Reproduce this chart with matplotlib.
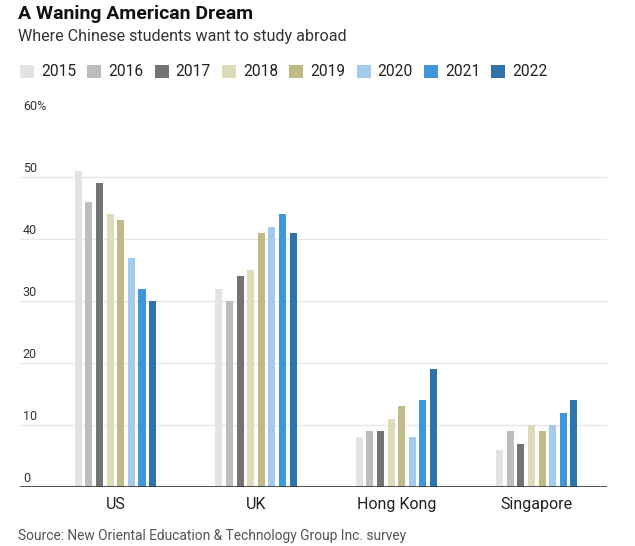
import numpy as np
import matplotlib.pyplot as plt
from matplotlib.patches import Patch

plt.rcParams['font.family'] = ['Roboto', 'DejaVu Sans']

# data (% of students)
countries = ['US', 'UK', 'Hong Kong', 'Singapore']
years = ['2015', '2016', '2017', '2018', '2019', '2020', '2021', '2022']
values = {
    '2015': [51, 32, 8, 6],
    '2016': [46, 30, 9, 9],
    '2017': [49, 34, 9, 7],
    '2018': [44, 35, 11, 10],
    '2019': [43, 41, 13, 9],
    '2020': [37, 42, 8, 10],
    '2021': [32, 44, 14, 12],
    '2022': [30, 41, 19, 14],
}
colors = ['#e2e3e5', '#bdbdbd', '#737373', '#dedbbb', '#bfba88',
          '#a3cbec', '#3d97d8', '#2e74aa']
yticks = [0, 10, 20, 30, 40, 50, 60]

fig = plt.figure(figsize=(6.35, 5.46), dpi=100)
ax = fig.add_axes([20 / 635, 59 / 546, 587 / 635, 372 / 546])

x = np.arange(len(countries))
pitch = 0.0755
width = 0.05
for i, yr in enumerate(years):
    offs = (i - 3.5) * pitch
    ax.bar(x + offs, values[yr], width=width, color=colors[i], zorder=3)

ax.set_xlim(-0.68, 3.5)
ax.set_ylim(0, 60)

# gridlines and labels above them
for t in yticks[1:-1]:
    ax.axhline(t, color='#e6e6e6', lw=1, zorder=1)
ax.axhline(0, color='#333333', lw=1.2, zorder=4)
for t in yticks:
    lab = f'{t}%' if t == 60 else str(t)
    ax.annotate(lab, (0, t), xycoords=('axes fraction', 'data'),
                xytext=(2, 6), textcoords='offset points',
                ha='left', va='center', fontsize=9, color='#333333')

ax.set_xticks(x)
ax.set_xticklabels(countries, fontsize=11.5, color='#222222')
ax.tick_params(axis='x', length=0, pad=7)
ax.set_yticks([])
for s in ax.spines.values():
    s.set_visible(False)

fig.text(18 / 635, 1 - 14 / 546, 'A Waning American Dream', fontsize=14,
         fontweight='bold', color='#111111', va='center', ha='left')
fig.text(18 / 635, 1 - 36 / 546, 'Where Chinese students want to study abroad',
         fontsize=11.6, color='#333333', va='center', ha='left')

handles = [Patch(facecolor=c, edgecolor='none') for c in colors]
fig.legend(handles, years, loc='center left', bbox_to_anchor=(6 / 635, 1 - 72 / 546),
           ncol=8, frameon=False, fontsize=11.2, handlelength=0.9, handleheight=0.9,
           handletextpad=0.45, columnspacing=0.72, labelcolor='#222222')

fig.text(18 / 635, 1 - 536 / 546, 'Source: New Oriental Education & Technology Group Inc. survey',
         fontsize=9.9, color='#555555', va='center', ha='left')

fig.savefig('out.png', dpi=100)
